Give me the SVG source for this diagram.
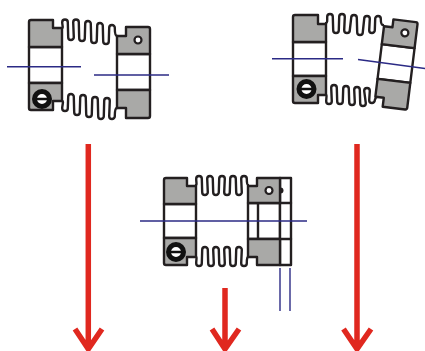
<svg xmlns="http://www.w3.org/2000/svg" width="425" height="351" viewBox="0 0 425 351">
<style>
.g{fill:#a9a9a7;stroke:#231f20;stroke-width:2.400;stroke-linejoin:round}
.w{fill:#fff;stroke:#231f20;stroke-width:2.400;stroke-linejoin:round}
.s{fill:none;stroke:#231f20;stroke-width:2.400;stroke-linejoin:round;stroke-linecap:round}
.ax{fill:none;stroke:#2b2a85;stroke-width:1.400}
.ar{fill:none;stroke:#e0281f;stroke-width:5.500}
.h{fill:#fff;stroke:#231f20;stroke-width:2.200}
.sc{fill:#fff;stroke:#111;stroke-width:5}
.sb{stroke:#111;stroke-width:2.500}
</style>
<defs>
<g id="screw"><circle class="sc" r="7.500"/><line class="sb" x1="-6" x2="6" y1="0" y2="0"/></g>
</defs>
<g id="coupling-left">
<rect class="w" x="29" y="47" width="33" height="36"/>
<path class="g" d="M29,22Q29,20 31,20H53V28H62V47H29Z"/>
<path class="g" d="M29,83H62V101H53V110H31Q29,110 29,108Z"/>
<use href="#screw" x="42" y="99"/>
<rect class="w" x="117" y="54" width="33" height="36"/>
<path class="g" d="M126,36V27H148Q150,27 150,29V54H117V36Z"/>
<path class="g" d="M117,90H150V116Q150,118 148,118H126V108H117Z"/>
<circle class="h" cx="138" cy="40" r="3.500"/>
<path class="s" d="M62,28C63.500,28 62.200,25 62.200,22.300A2.800,2.800 0 0 1 67.800,22.300L68.200,37.200A2.800,2.800 0 0 0 73.800,37.200L73.200,22.300A2.800,2.800 0 0 1 78.800,22.300L79.200,38.200A2.800,2.800 0 0 0 84.800,38.200L85.200,23.800A2.800,2.800 0 0 1 90.800,23.800L91.200,40.200A2.800,2.800 0 0 0 96.800,40.200L97.200,25.800A2.800,2.800 0 0 1 102.800,25.800L103.200,41.200A2.800,2.800 0 0 0 108.800,41.200L109.200,27.800A2.800,2.800 0 0 1 114.800,27.800C114.800,32 115,36 117,36"/>
<path class="s" d="M62,101C64,101 62.200,105 62.200,108.200A2.800,2.800 0 0 0 67.800,108.200L68.200,96.800A2.800,2.800 0 0 1 73.800,96.800L74.200,112.200A2.800,2.800 0 0 0 79.800,112.200L80.200,97.800A2.800,2.800 0 0 1 85.800,97.800L86.200,114.200A2.800,2.800 0 0 0 91.800,114.200L92.200,99.800A2.800,2.800 0 0 1 97.800,99.800L98.200,116.200A2.800,2.800 0 0 0 103.800,116.200L104.200,100.800A2.800,2.800 0 0 1 109.800,100.800L109.200,116.200A2.800,2.800 0 0 0 114.800,116.200C114.800,112 115,108 117,108"/>
</g>
<g id="coupling-right">
<rect class="w" x="293" y="42" width="33" height="34"/>
<path class="g" d="M293,17Q293,15 295,15H318V24H326V42H293Z"/>
<path class="g" d="M293,76H326V95H318V103H295Q293,103 293,101Z"/>
<use href="#screw" x="306.500" y="89"/>
<g transform="translate(396,64) rotate(7)">
<rect class="w" x="-16.500" y="-18" width="33" height="35"/>
<path class="g" d="M-8,-36V-44H14.500Q16.500,-44 16.500,-42V-18H-16.500V-36Z"/>
<path class="g" d="M-16.500,17H16.500V42Q16.500,44 14.500,44H-8V35H-16.500Z"/>
<circle class="h" cx="5" cy="-32" r="3.500"/>
</g>
<path class="s" d="M326,23C327.500,23 327.200,20 327.200,16.800A2.800,2.800 0 0 1 332.800,16.800L333.200,30.200A2.800,2.800 0 0 0 338.800,30.200L339.200,16.800A2.800,2.800 0 0 1 344.800,16.800L344.200,30.200A2.800,2.800 0 0 0 349.800,30.200L351.200,17.800A2.800,2.800 0 0 1 356.800,17.800L357.200,32.200A2.800,2.800 0 0 0 362.800,32.200L364.200,18.800A2.800,2.800 0 0 1 369.800,18.800L369.200,30.200A2.800,2.800 0 0 0 374.800,30.200L375.200,18.800A2.800,2.800 0 0 1 380.800,18.800C380.800,22 381,25 383,25"/>
<path class="s" d="M326,95C327,95 326.200,98 326.200,101.200A2.800,2.800 0 0 0 331.800,101.200L331.200,87.800A2.800,2.800 0 0 1 336.800,87.800L337.200,101.200A2.800,2.800 0 0 0 342.800,101.200L343.200,88.800A2.800,2.800 0 0 1 348.800,88.800L349.200,102.200A2.800,2.800 0 0 0 354.800,102.200L354.200,89.800A2.800,2.800 0 0 1 359.800,89.800L360.200,103.200A2.800,2.800 0 0 0 365.800,103.200L364.200,90.800A2.800,2.800 0 0 1 369.800,90.800L369.200,100.200A2.800,2.800 0 0 0 374.800,100.200C375,100 375.500,97 377,97"/>
</g>
<g id="coupling-middle">
<rect class="w" x="164" y="204" width="32" height="34"/>
<path class="g" d="M164,180Q164,178 166,178H187V186H196V204H164Z"/>
<path class="g" d="M164,238H196V257H187V265H166Q164,265 164,263Z"/>
<use href="#screw" x="176" y="252"/>
<rect class="w" x="248" y="203" width="32" height="36"/>
<rect class="w" x="280" y="178" width="11" height="87"/>
<line class="s" x1="280" y1="203" x2="291" y2="203"/>
<line class="s" x1="280" y1="239" x2="291" y2="239"/>
<line class="s" x1="258" y1="203" x2="258" y2="239"/>
<circle cx="280.500" cy="190.500" r="3" fill="#231f20"/>
<path class="g" d="M257,186V178H280V203H248V186Z"/>
<path class="g" d="M248,239H280V265H257V257H248Z"/>
<circle class="h" cx="269" cy="190.500" r="3.500"/>
<path class="s" d="M196,185C197,185 196.200,182 196.200,178.800A2.800,2.800 0 0 1 201.800,178.800L202.200,192.200A2.800,2.800 0 0 0 207.800,192.200L207.200,178.800A2.800,2.800 0 0 1 212.800,178.800L213.200,192.200A2.800,2.800 0 0 0 218.800,192.200L219.200,178.800A2.800,2.800 0 0 1 224.800,178.800L224.200,192.200A2.800,2.800 0 0 0 229.800,192.200L230.200,178.800A2.800,2.800 0 0 1 235.800,178.800L236.200,192.200A2.800,2.800 0 0 0 241.800,192.200L241.200,178.800A2.800,2.800 0 0 1 246.800,178.800C246.800,182 247,185 248,185"/>
<path class="s" d="M196,257C197,257 196.200,260 196.200,263.200A2.800,2.800 0 0 0 201.800,263.200L202.200,249.800A2.800,2.800 0 0 1 207.800,249.800L208.200,263.200A2.800,2.800 0 0 0 213.800,263.200L213.200,249.800A2.800,2.800 0 0 1 218.800,249.800L219.200,263.200A2.800,2.800 0 0 0 224.800,263.200L224.200,249.800A2.800,2.800 0 0 1 229.800,249.800L230.200,263.200A2.800,2.800 0 0 0 235.800,263.200L236.200,249.800A2.800,2.800 0 0 1 241.800,249.800L241.200,263.200A2.800,2.800 0 0 0 246.800,263.200C246.800,260 247,257 248,257"/>
</g>
<g id="connectors">
<line class="ax" x1="7" y1="66.700" x2="81" y2="66.700"/>
<line class="ax" x1="94" y1="75" x2="169" y2="75"/>
<line class="ax" x1="272" y1="58.700" x2="343" y2="58.700"/>
<line class="ax" x1="358" y1="59.500" x2="425" y2="68.500"/>
<line class="ax" x1="140" y1="221" x2="307" y2="221"/>
<line class="ax" x1="280" y1="268" x2="280" y2="311"/>
<line class="ax" x1="290" y1="268" x2="290" y2="311"/>
<path class="ar" d="M88.300,144V349M75,329L88.300,349L102,329"/>
<path class="ar" d="M225,288V349M212,329L225,349L239,329"/>
<path class="ar" d="M357,144V349M343.500,329L357,349L371,329"/>
</g>
</svg>
